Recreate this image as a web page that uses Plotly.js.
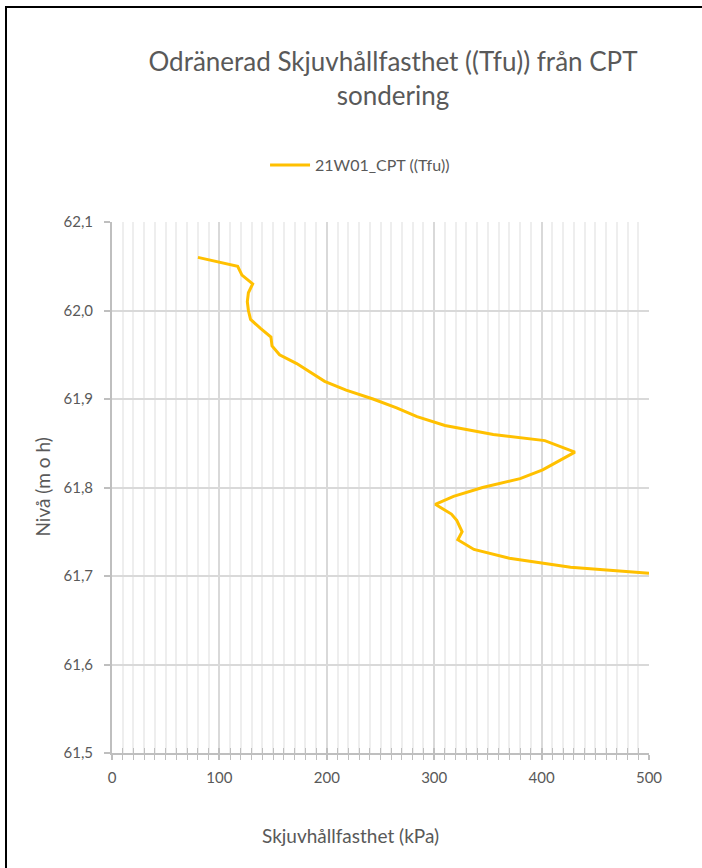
<!DOCTYPE html>
<html>
<head>
<meta charset="utf-8">
<script src="https://cdn.plot.ly/plotly-3.0.1.min.js"></script>
<style>
html,body{margin:0;padding:0;background:#fff;}
#frame{position:absolute;left:5px;top:6px;width:720px;height:900px;border-left:2px solid #000;border-top:2px solid #000;box-sizing:border-box;pointer-events:none;z-index:5;}
#chart{width:702px;height:868px;}
</style>
</head>
<body>
<div id="frame"></div>
<div id="chart"></div>
<script>
// Series: 21W01_CPT ((Tfu)) — shear strength (kPa) vs level (m o h)
const seriesName = "21W01_CPT ((Tfu))";
const strengthKPa = [80, 117, 121, 131, 127, 126, 127, 129, 138, 148, 149, 156, 172, 185, 198, 218, 243, 265, 284, 310, 355, 403, 431, 401, 380, 345, 318, 301, 316, 321, 326, 322, 337, 370, 427, 500];
const levelMOH   = [62.06, 62.05, 62.04, 62.03, 62.02, 62.01, 62.00, 61.99, 61.98, 61.97, 61.96, 61.95, 61.94, 61.93, 61.92, 61.91, 61.90, 61.89, 61.88, 61.87, 61.86, 61.853, 61.84, 61.82, 61.81, 61.80, 61.79, 61.781, 61.77, 61.763, 61.75, 61.741, 61.73, 61.72, 61.71, 61.703];
const xTicks = [0, 100, 200, 300, 400, 500];
const yTicks = [61.5, 61.6, 61.7, 61.8, 61.9, 62.0, 62.1];

const txt = "#595959";
const font = "Lato, 'Open Sans', sans-serif";

const traces = [
  {x: strengthKPa, y: levelMOH, type: "scatter", mode: "lines", name: seriesName,
   line: {color: "#FFC000", width: 3}, xaxis: "x", yaxis: "y"},
  {x: [0], y: [61.5], type: "scatter", mode: "markers", marker: {opacity: 0},
   showlegend: false, hoverinfo: "skip", xaxis: "x2", yaxis: "y"}
];

const layout = {
  width: 702, height: 868,
  paper_bgcolor: "#fff", plot_bgcolor: "#fff",
  separators: ", ",
  margin: {l: 112, r: 53, t: 222, b: 115},
  font: {family: font, color: txt, size: 15},
  title: {text: "Odränerad Skjuvhållfasthet ((Tfu)) från CPT<br>sondering",
          font: {family: font, size: 26, color: txt},
          xref: "container", x: 393/702, xanchor: "center",
          yref: "container", y: 1 - 71/868, yanchor: "top"},
  showlegend: true,
  legend: {orientation: "h", x: 0.285, xanchor: "left", y: 1.107, yanchor: "middle",
           itemwidth: 40,
           font: {family: font, size: 16, color: txt}, bgcolor: "rgba(0,0,0,0)"},
  xaxis: {range: [0, 500], tickvals: xTicks, ticktext: xTicks.map(String),
          showgrid: true, gridcolor: "#d9d9d9", gridwidth: 2,
          showline: true, linecolor: "#bfbfbf", linewidth: 2,
          ticks: "outside", ticklen: 5, tickcolor: "#bfbfbf", tickwidth: 2,
          ticklabelstandoff: 5,
          minor: {dtick: 10, tick0: 0, showgrid: true, gridcolor: "#eeeeee", gridwidth: 2,
                  ticks: "outside", ticklen: 5, tickcolor: "#bfbfbf", tickwidth: 1},
          zeroline: false, fixedrange: true,
          tickfont: {family: font, size: 15, color: txt}},
  xaxis2: {overlaying: "x", matches: "x", side: "bottom", range: [0, 500],
           tickvals: xTicks, showticklabels: false, showgrid: false, zeroline: false,
           ticks: "inside", ticklen: 5, tickcolor: "#bfbfbf", tickwidth: 2,
           minor: {dtick: 10, tick0: 0, showgrid: false, ticks: "inside", ticklen: 5, tickcolor: "#bfbfbf", tickwidth: 1},
           anchor: "y"},
  yaxis: {range: [61.5, 62.1], tickvals: yTicks, tickformat: ".1f",
          showgrid: true, gridcolor: "#d9d9d9", gridwidth: 2,
          showline: true, linecolor: "#bfbfbf", linewidth: 2,
          ticks: "outside", ticklen: 6, tickcolor: "#bfbfbf", tickwidth: 2,
          ticklabelstandoff: 8,
          zeroline: false, fixedrange: true,
          tickfont: {family: font, size: 15, color: txt}},
  annotations: [
    {text: "Skjuvhållfasthet (kPa)", xref: "paper", yref: "paper",
     x: (350-112)/537, y: -(835-753)/531, xanchor: "center", yanchor: "middle",
     showarrow: false, font: {family: font, size: 19, color: txt}},
    {text: "Nivå (m o h)", xref: "paper", yref: "paper", textangle: -90,
     x: -(112-42)/537, y: 0.5, xanchor: "center", yanchor: "middle",
     showarrow: false, font: {family: font, size: 19, color: txt}}
  ]
};

Plotly.newPlot("chart", traces, layout, {displayModeBar: false, staticPlot: true});
</script>
</body>
</html>
